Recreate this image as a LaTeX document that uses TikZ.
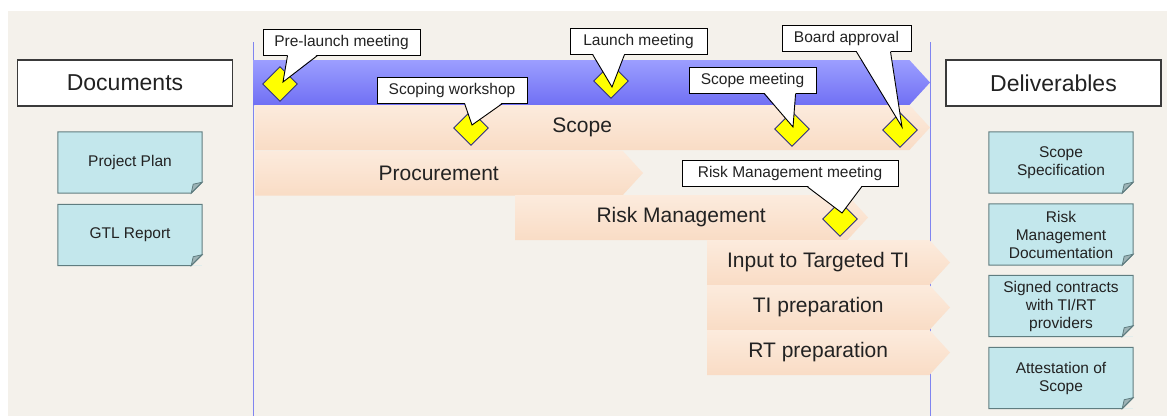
\documentclass[tikz,border=0pt]{standalone}
\usepackage{fontspec}
\setmainfont{Liberation Sans}
\usepackage{tikz}
\usetikzlibrary{shapes.geometric, shapes.symbols}

\definecolor{bgc}{HTML}{F4F1EB}
\definecolor{ink}{HTML}{222222}
\definecolor{boxline}{HTML}{3A3A3A}
\definecolor{blueT}{HTML}{9C9EFF}
\definecolor{blueB}{HTML}{7070F4}
\definecolor{peachT}{HTML}{FCEBDD}
\definecolor{peachB}{HTML}{F9DCC5}
\definecolor{msfill}{HTML}{FFFF00}
\definecolor{msline}{HTML}{2E2E80}
\definecolor{notefill}{HTML}{C3E7EC}
\definecolor{noteline}{HTML}{5F7D80}
\definecolor{foldc}{HTML}{9DB3B6}
\definecolor{divline}{HTML}{7F84F0}

% pointer of a callout: callout, base from, base to, tip
\newcommand{\callptr}[4]{%
  \fill[white] ([xshift=#2pt,yshift=1.2pt]#1.south west) -- (#4) -- ([xshift=#3pt,yshift=1.2pt]#1.south west) -- cycle;
  \draw[ptrline] ([xshift=#2pt]#1.south west) -- (#4) -- ([xshift=#3pt]#1.south west);
}

\begin{document}
\begin{tikzpicture}[x=1pt,y=-1pt,
  titlebox/.style={rectangle,draw=boxline,line width=1.1pt,fill=white,minimum width=215pt,minimum height=46pt,text=ink,font=\fontsize{23}{27}\selectfont},
  phase/.style={signal,signal to=east,signal pointer angle=95,minimum height=45pt,inner sep=0pt,draw=none,top color=peachT,bottom color=peachB,text=ink,font=\fontsize{21}{25}\selectfont},
  milestone/.style={diamond,draw=msline,line width=0.9pt,fill=msfill,minimum width=35pt,minimum height=35pt,inner sep=0pt},
  callbox/.style={rectangle,draw=black,line width=0.9pt,fill=white,minimum height=26pt,inner sep=0pt,text=ink,font=\fontsize{15.5}{18}\selectfont},
  ptrline/.style={draw=black,line width=0.9pt,line join=miter},
  note/.style={rectangle,fill=notefill,minimum width=144pt,minimum height=61pt,align=center,inner sep=0pt,text=ink,font=\fontsize{15.5}{18}\selectfont},
  divider/.style={draw=divline,line width=1pt}]

\useasboundingbox (0,0) rectangle (1167,416);
\fill[white] (0,0) rectangle (1167,416);
\fill[bgc] (8,11) rectangle (1167,416);

% dividers
\coordinate (divL1) at (253,42);
\coordinate (divL2) at (253,416);
\coordinate (divR1) at (930,42);
\coordinate (divR2) at (930,416);
\draw[divider] (divL1) -- (divL2);
\draw[divider] (divR1) -- (divR2);

% phases
\node (band) at (581.2,82.5) [phase,top color=blueT,bottom color=blueB,minimum width=677pt] {};
\node (scope) at (582.2,127.5) [phase,minimum width=675pt] {Scope};
\node (proc) at (438.7,173) [phase,minimum width=388pt] {Procurement};
\node (risk) at (681.2,217.5) [phase,minimum width=353pt] {Risk Management};
\node (input) at (818.2,262.5) [phase,minimum width=243pt] {Input to Targeted TI};
\node (tiprep) at (818.2,307.5) [phase,minimum width=243pt] {TI preparation};
\node (rtprep) at (818.2,352.5) [phase,minimum width=243pt] {RT preparation};

% milestones
\node (msPre) at (280,84) [milestone] {};
\node (msWork) at (471,128) [milestone] {};
\node (msLaunch) at (611,81) [milestone] {};
\node (msScope) at (792,129) [milestone] {};
\node (msBoard) at (900,130) [milestone] {};
\node (msRisk) at (840,219) [milestone] {};

% callouts
\node (cPre) at (341.5,42) [callbox,minimum width=157pt] {Pre-launch meeting};
\callptr{cPre}{25}{55}{[xshift=3pt,yshift=2pt]msPre.center}
\node (cWork) at (452,90) [callbox,minimum width=150pt] {Scoping workshop};
\callptr{cWork}{88}{126}{[xshift=1pt,yshift=3pt]msWork.center}
\node (cLaunch) at (638.5,41) [callbox,minimum width=137pt] {Launch meeting};
\callptr{cLaunch}{23}{55}{[xshift=1pt,yshift=-6pt]msLaunch.center}
\node (cScope) at (752.5,80.5) [callbox,minimum width=127pt] {Scope meeting};
\callptr{cScope}{76}{107}{[xshift=1pt,yshift=2pt]msScope.center}
\node (cBoard) at (846.5,38.5) [callbox,minimum width=129pt] {Board approval};
\callptr{cBoard}{75}{109}{[xshift=2pt,yshift=3pt]msBoard.center}
\node (cRisk) at (790,173.5) [callbox,minimum width=216pt] {Risk Management meeting};
\callptr{cRisk}{126}{180}{[xshift=2pt,yshift=6pt]msRisk.center}

% headings
\node (docs) at (125,83) [titlebox] {Documents};
\node (deliv) at (1053.5,83) [titlebox] {Deliverables};

% documents and deliverables
\node (plan) at (130,162.5) [note] {Project Plan};
\node (gtl) at (130,235) [note] {GTL Report};
\node (spec) at (1061,162.5) [note] {Scope\\Specification};
\node (riskdoc) at (1061,234.5) [note] {Risk\\Management\\Documentation};
\node (contracts) at (1061,306) [note] {Signed contracts\\with TI/RT\\providers};
\node (attest) at (1061,378) [note] {Attestation of\\Scope};

\foreach \n in {plan,gtl,spec,riskdoc,contracts,attest}{
  \fill[bgc] ([yshift=11pt]\n.south east) -- (\n.south east) -- ([xshift=-11pt]\n.south east) -- cycle;
  \filldraw[fill=foldc,draw=noteline,line width=0.8pt] ([yshift=11pt]\n.south east) -- ([xshift=-11pt]\n.south east) -- ([xshift=-9pt,yshift=9pt]\n.south east) -- cycle;
  \draw[noteline,line width=1pt] (\n.north west) -- (\n.north east) -- ([yshift=11pt]\n.south east) -- ([xshift=-11pt]\n.south east) -- (\n.south west) -- cycle;
}

\end{tikzpicture}
\end{document}
